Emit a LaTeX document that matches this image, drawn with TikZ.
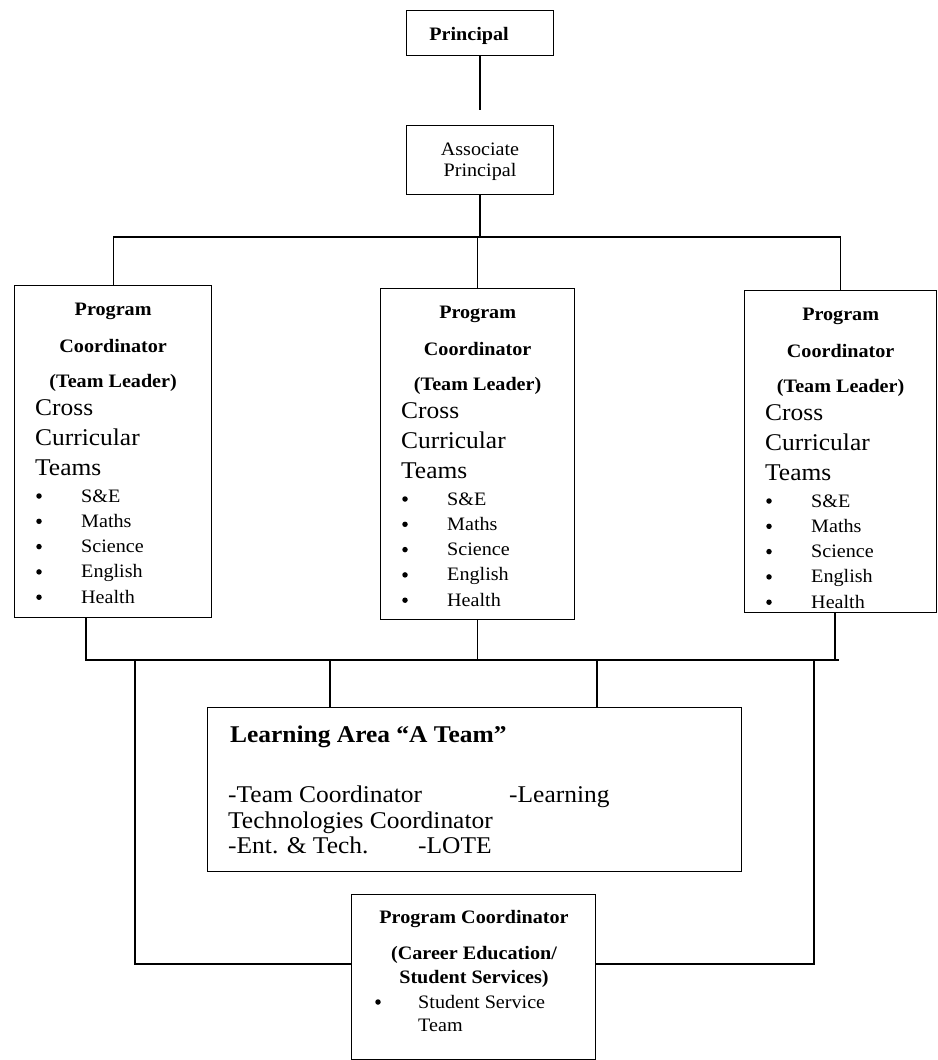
\documentclass[tikz,border=0pt]{standalone}
\usepackage{fontspec}
\setmainfont{Liberation Serif}[FakeStretch=1.06]
\tikzset{
  x=1pt, y=-1pt,
  box/.style={draw, line width=1.3pt, inner sep=0pt},
  conn/.style={line width=1.2pt},
  hd/.style={font=\fontsize{19}{19}\selectfont\bfseries, inner sep=0pt},
  big/.style={font=\fontsize{24}{24}\selectfont, inner sep=0pt},
  bigb/.style={font=\fontsize{24}{24}\selectfont\bfseries, inner sep=0pt},
  itm/.style={font=\fontsize{19}{19}\selectfont, inner sep=0pt},
  dot/.style={circle, fill=black, inner sep=0pt, minimum size=5.5pt},
}
\newcommand\progbox[5]{%
  \node[box, minimum width=#4pt, minimum height=#5pt, anchor=north west] (#1) at (#2,#3) {};
  \path (#1.north) ++(0,30) node[hd, anchor=base] (#1-a) {Program};
  \path (#1.north) ++(0,67) node[hd, anchor=base] (#1-b) {Coordinator};
  \path (#1.north) ++(0,102) node[hd, anchor=base] (#1-c) {(Team Leader)};
  \path (#1.north west) ++(21,130) node[big, anchor=base west] (#1-d) {Cross};
  \path (#1.north west) ++(21,160) node[big, anchor=base west] (#1-e) {Curricular};
  \path (#1.north west) ++(21,190) node[big, anchor=base west] (#1-f) {Teams};
  \foreach \t [count=\k] in {S\&E,Maths,Science,English,Health}{
    \path (#1.north west) ++(25,{217+25.3*(\k-1)-6}) node[dot] (#1-b\k) {};
    \path (#1.north west) ++(67,{217+25.3*(\k-1)}) node[itm, anchor=base west] (#1-i\k) {\t};
  }
}
\begin{document}
\begin{tikzpicture}
\useasboundingbox (0,0) rectangle (937,1060);
\fill[white] (0,0) rectangle (937,1060);

% top boxes
\node[box, minimum width=147pt, minimum height=45pt, anchor=north west] (pr) at (406,10) {};
\node[hd, anchor=base] (prt) at (469,40) {Principal};
\node[box, minimum width=147pt, minimum height=69pt, anchor=north west] (ap) at (406,125) {};
\node[itm, anchor=base] (apt1) at (480,155) {Associate};
\node[itm, anchor=base] (apt2) at (480,176) {Principal};

% program coordinator boxes
\progbox{pcl}{14}{285}{197}{332}
\progbox{pcm}{380}{288}{194}{331}
\progbox{pcr}{744}{290}{192}{322}

% learning area box
\node[box, minimum width=534pt, minimum height=164pt, anchor=north west] (la) at (207,707) {};
\node[bigb, anchor=base west] (la-t) at (230,742) {Learning Area “A Team”};
\node[big, anchor=base west] (la-1) at (228,802) {-Team Coordinator};
\node[big, anchor=base west] (la-2) at (509,802) {-Learning};
\node[big, anchor=base west] (la-3) at (228,828) {Technologies Coordinator};
\node[big, anchor=base west] (la-4) at (228,853) {-Ent. \& Tech.};
\node[big, anchor=base west] (la-5) at (418,853) {-LOTE};

% bottom box
\node[box, minimum width=244pt, minimum height=165pt, anchor=north west] (pcs) at (351,894) {};
\node[hd, anchor=base] (pcs-a) at (474,923) {Program Coordinator};
\node[hd, anchor=base] (pcs-b) at (474,959) {(Career Education/};
\node[hd, anchor=base] (pcs-c) at (474,983) {Student Services)};
\node[dot] (pcs-d) at (378,1002) {};
\node[itm, anchor=base west] (pcs-e) at (418,1008) {Student Service};
\node[itm, anchor=base west] (pcs-f) at (418,1031) {Team};

% connector coordinates
\coordinate (gapend) at (480,110);
\coordinate (busU) at (480,237);
\coordinate (busL) at (86,660);
\coordinate (busR) at (839,660);
\coordinate (rdrop) at (835,660);
\coordinate (la1) at (330,660);
\coordinate (la2) at (597,660);
\coordinate (lo1) at (135,660);
\coordinate (lo2) at (814,660);
\coordinate (hy) at (0,964);

% connectors
\draw[conn] (pr.south -| gapend) -- (gapend);
\draw[conn] (ap.south -| busU) -- (busU);
\draw[conn] (pcl.north) |- (busU) -| (pcr.north);
\draw[conn] (pcm.north) -- (pcm.north |- busU);
\draw[conn] (pcl.south -| busL) -- (busL) -- (busR);
\draw[conn] (pcm.south) -- (pcm.south |- busL);
\draw[conn] (rdrop |- pcr.south) -- (rdrop);
\draw[conn] (la1) -- (la1 |- la.north);
\draw[conn] (la2) -- (la2 |- la.north);
\draw[conn] (lo1) |- (pcs.west |- hy);
\draw[conn] (lo2) |- (pcs.east |- hy);
\end{tikzpicture}
\end{document}
